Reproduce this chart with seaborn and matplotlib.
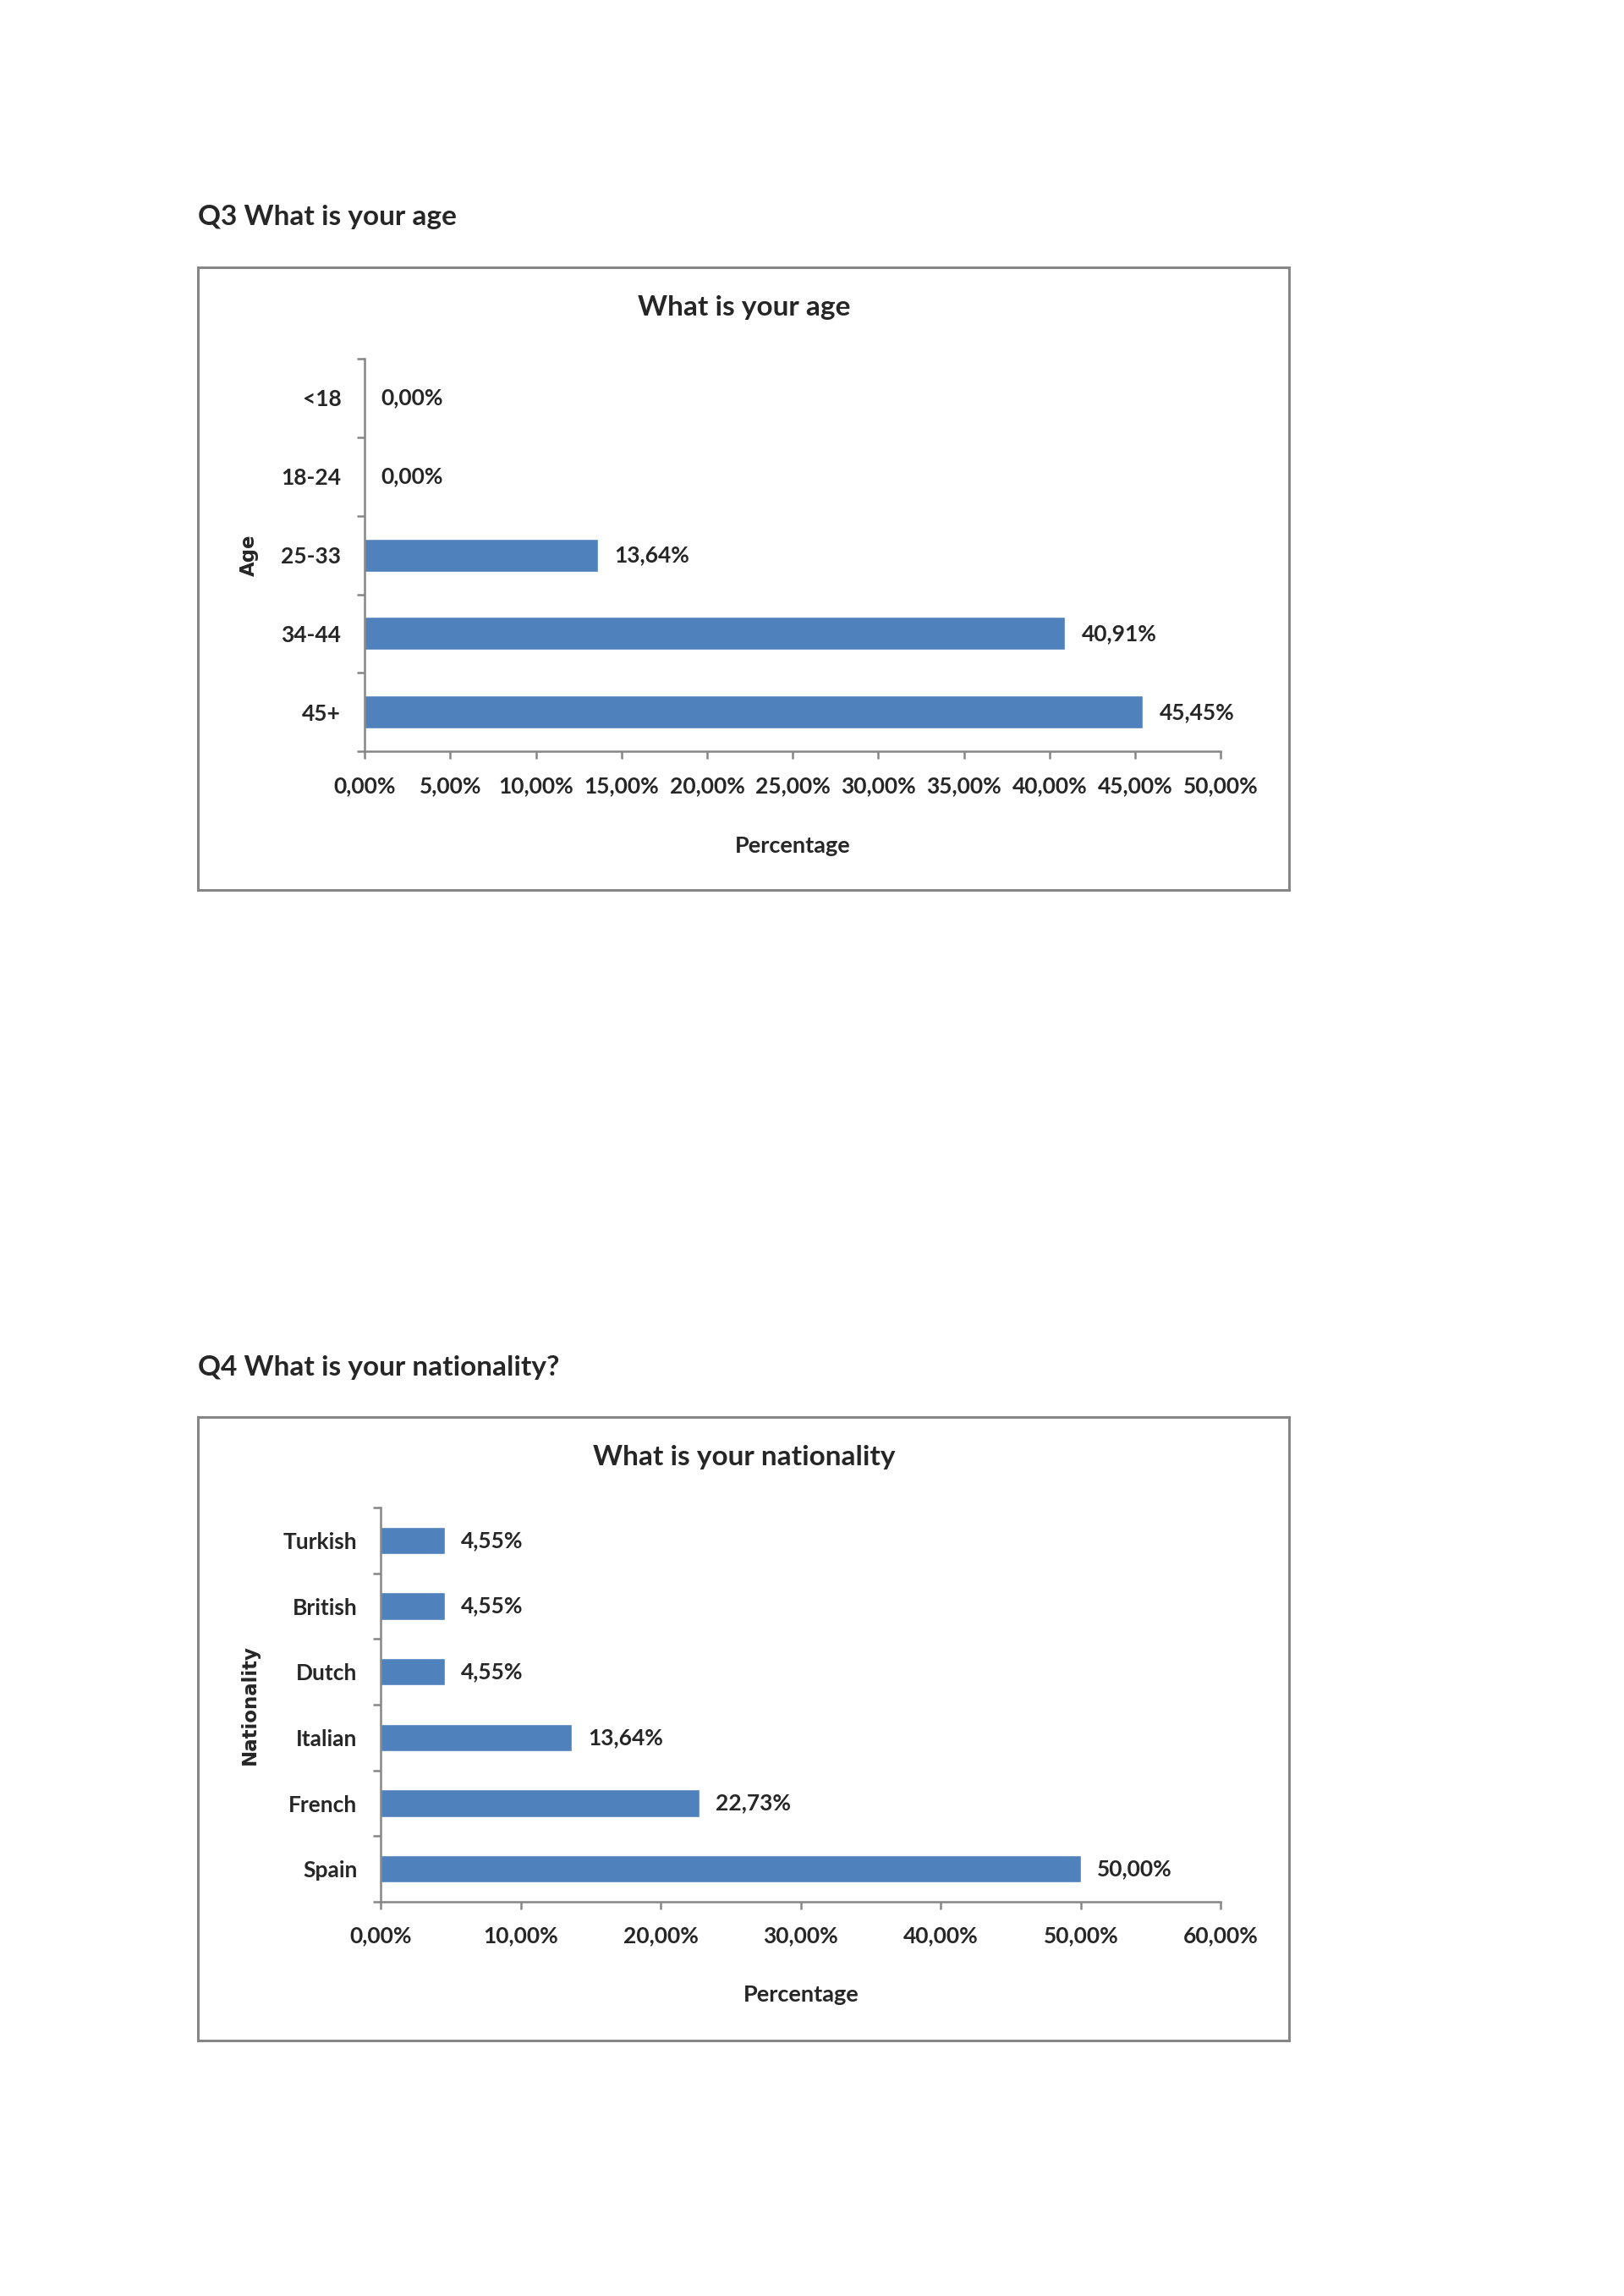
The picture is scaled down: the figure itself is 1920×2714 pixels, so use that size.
import matplotlib
matplotlib.use('Agg')
import matplotlib.pyplot as plt
import matplotlib.patches as patches
from matplotlib.ticker import FuncFormatter, MultipleLocator, FixedLocator
import seaborn as sns

# Data
age_groups = ['<18', '18-24', '25-33', '34-44', '45+']
age_pct = [0.00, 0.00, 13.64, 40.91, 45.45]

nationalities = ['Turkish', 'British', 'Dutch', 'Italian', 'French', 'Spain']
nat_pct = [4.55, 4.55, 4.55, 13.64, 22.73, 50.00]

sns.set_theme(style='white')
plt.rcParams['font.family'] = ['Lato', 'DejaVu Sans']
plt.rcParams['font.weight'] = 'bold'

BLUE = '#4F81BD'
GREY = '#868686'


def pct(v):
    return f'{v:.2f}'.replace('.', ',') + '%'


def draw(ax, cats, vals, xmax, step, ylabel, ylab_x, xlab_y):
    sns.barplot(x=vals, y=cats, orient='h', color=BLUE, saturation=1,
                width=0.42, ax=ax)
    ax.set_xlim(0, xmax)
    ax.set_ylim(len(cats) - 0.5, -0.5)
    ax.xaxis.set_major_locator(MultipleLocator(step))
    ax.xaxis.set_major_formatter(FuncFormatter(lambda v, p: pct(v)))
    ax.yaxis.set_minor_locator(FixedLocator([i - 0.5 for i in range(len(cats) + 1)]))
    for s in ['top', 'right']:
        ax.spines[s].set_visible(False)
    for s in ['left', 'bottom']:
        ax.spines[s].set_color(GREY)
        ax.spines[s].set_linewidth(1.8)
    ax.tick_params(axis='y', which='major', length=0, pad=20, labelsize=19)
    ax.tick_params(axis='y', which='minor', length=6.5, width=1.8,
                   color=GREY, direction='out', left=True)
    ax.tick_params(axis='x', which='major', length=6.5, width=1.8,
                   color=GREY, direction='out', bottom=True, pad=14,
                   labelsize=19)
    for lab in ax.get_xticklabels() + ax.get_yticklabels():
        lab.set_fontweight('bold')
    ax.bar_label(ax.containers[0], labels=[pct(v) for v in vals],
                 padding=14, fontsize=19, fontweight='bold')
    ax.set_xlabel('Percentage', fontsize=19.5, fontweight='bold', va='center')
    ax.xaxis.set_label_coords(0.5, xlab_y)
    ax.set_ylabel(ylabel, fontsize=16.5, fontweight='bold',
                  family='DejaVu Sans', va='center')
    ax.yaxis.set_label_coords(ylab_x, 0.5)


fig = plt.figure(figsize=(19.2, 27.14), dpi=100)

# frames around the two charts
for y0 in [0.6122, 0.1113]:
    fig.patches.append(patches.Rectangle((0.1218, y0), 0.6718, 0.2714,
                                         transform=fig.transFigure,
                                         fill=False, edgecolor=GREY,
                                         linewidth=2.2))

fig.text(0.1218, 0.9055, 'Q3 What is your age', fontsize=24,
         fontweight='bold', ha='left', va='center')
fig.text(0.458, 0.8662, 'What is your age', fontsize=24,
         fontweight='bold', ha='center', va='center')
fig.text(0.1218, 0.4045, 'Q4 What is your nationality?', fontsize=24,
         fontweight='bold', ha='left', va='center')
fig.text(0.458, 0.3653, 'What is your nationality', fontsize=24,
         fontweight='bold', ha='center', va='center')

ax1 = fig.add_axes([0.2245, 0.6727, 0.5273, 0.1711])
draw(ax1, age_groups, age_pct, 50, 5, 'Age', -0.1345, -0.24)

ax2 = fig.add_axes([0.2345, 0.1717, 0.5173, 0.1717])
draw(ax2, nationalities, nat_pct, 60, 10, 'Nationality', -0.156, -0.235)

fig.savefig('out.png', dpi=100, facecolor='white')
